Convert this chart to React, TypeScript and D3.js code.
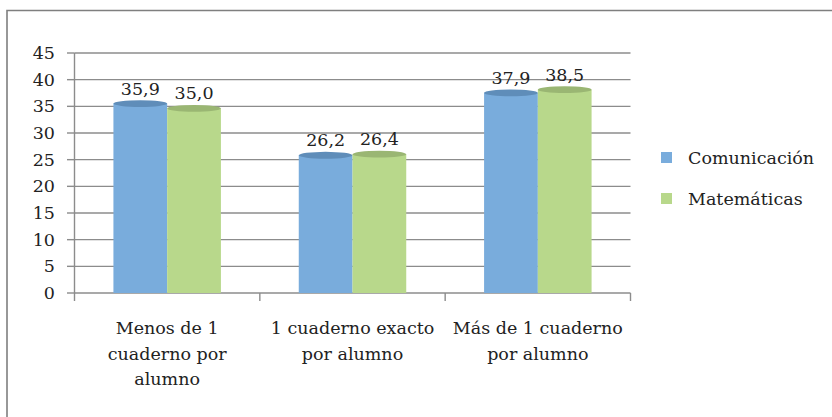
import React from "react";
import * as d3 from "d3";

const categories: string[][] = [
  ["Menos de 1", "cuaderno por", "alumno"],
  ["1 cuaderno exacto", "por alumno"],
  ["Más de 1 cuaderno", "por alumno"],
];
const seriesNames = ["Comunicación", "Matemáticas"];
const comunicacion = [35.9, 26.2, 37.9];
const matematicas = [35.0, 26.4, 38.5];
const yTicks = [0, 5, 10, 15, 20, 25, 30, 35, 40, 45];

const W = 832;
const H = 417;
const FONT = "'DejaVu Serif', serif";
const FS = 17.5;
const sideColors = ["#79acdc", "#b8d88b"];
const topColors = ["#5f8db9", "#9ab673"];

export default function App() {
  const x0 = 74.5;
  const x1 = 630.5;
  const yBase = 293;
  const yTop = 53;
  const y = d3.scaleLinear().domain([0, 45]).range([yBase, yTop]);
  const xb = d3
    .scaleBand<number>()
    .domain(categories.map((_, i) => i))
    .range([x0, x1])
    .paddingInner(0.42)
    .paddingOuter(0.21);
  const xs = d3.scaleBand<number>().domain([0, 1]).range([0, xb.bandwidth()]);
  const series = [comunicacion, matematicas];
  const fmt = (v: number) => v.toFixed(1).replace(".", ",");
  const bandW = (x1 - x0) / categories.length;

  return (
    <svg
      width={W}
      height={H}
      style={{ position: "absolute", left: 0, top: 0, background: "#fff" }}
      fontFamily={FONT}
    >
      {/* outer border */}
      <path d={`M7,${H} L7,10.5 L${W},10.5`} fill="none" stroke="#7f7f7f" strokeWidth={1.6} />

      {/* gridlines */}
      {yTicks.map((t) => (
        <line key={"g" + t} x1={x0} x2={x1} y1={y(t)} y2={y(t)} stroke="#8c8c8c" strokeWidth={1.4} />
      ))}
      {/* y axis */}
      <line x1={x0} x2={x0} y1={yTop} y2={yBase} stroke="#8c8c8c" strokeWidth={1.4} />
      {yTicks.map((t) => (
        <g key={"t" + t}>
          <line x1={67} x2={x0} y1={y(t)} y2={y(t)} stroke="#8c8c8c" strokeWidth={1.4} />
          <text x={55} y={y(t) + 6} textAnchor="end" fontSize={FS} fill="#222">
            {t}
          </text>
        </g>
      ))}
      {/* category ticks */}
      {d3.range(categories.length + 1).map((i) => (
        <line
          key={"c" + i}
          x1={x0 + i * bandW}
          x2={x0 + i * bandW}
          y1={yBase}
          y2={yBase + 8}
          stroke="#8c8c8c"
          strokeWidth={1.4}
        />
      ))}

      {/* bars */}
      {categories.map((_, ci) =>
        series.map((s, si) => {
          const bx = (xb(ci) as number) + (xs(si) as number);
          const bw = xs.bandwidth();
          const v = s[ci];
          const yt = y(v) + 2;
          return (
            <g key={`b${ci}-${si}`}>
              <rect x={bx} y={yt} width={bw} height={yBase - yt} fill={sideColors[si]} />
              <ellipse cx={bx + bw / 2} cy={yt} rx={bw / 2} ry={3.4} fill={topColors[si]} />
              <text x={bx + bw / 2} y={yt - 9} textAnchor="middle" fontSize={FS} fill="#222">
                {fmt(v)}
              </text>
            </g>
          );
        })
      )}

      {/* category labels */}
      {categories.map((lines, ci) => (
        <text
          key={"cl" + ci}
          x={(xb(ci) as number) + xb.bandwidth() / 2}
          y={334}
          textAnchor="middle"
          fontSize={FS}
          fill="#222"
        >
          {lines.map((l, li) => (
            <tspan key={li} x={(xb(ci) as number) + xb.bandwidth() / 2} dy={li === 0 ? 0 : 25.5}>
              {l}
            </tspan>
          ))}
        </text>
      ))}

      {/* legend */}
      {seriesNames.map((n, i) => (
        <g key={"l" + i} transform={`translate(661, ${152 + i * 41})`}>
          <rect x={0} y={0} width={11} height={11} fill={sideColors[i]} />
          <text x={27} y={12} fontSize={FS} fill="#222">
            {n}
          </text>
        </g>
      ))}
    </svg>
  );
}
